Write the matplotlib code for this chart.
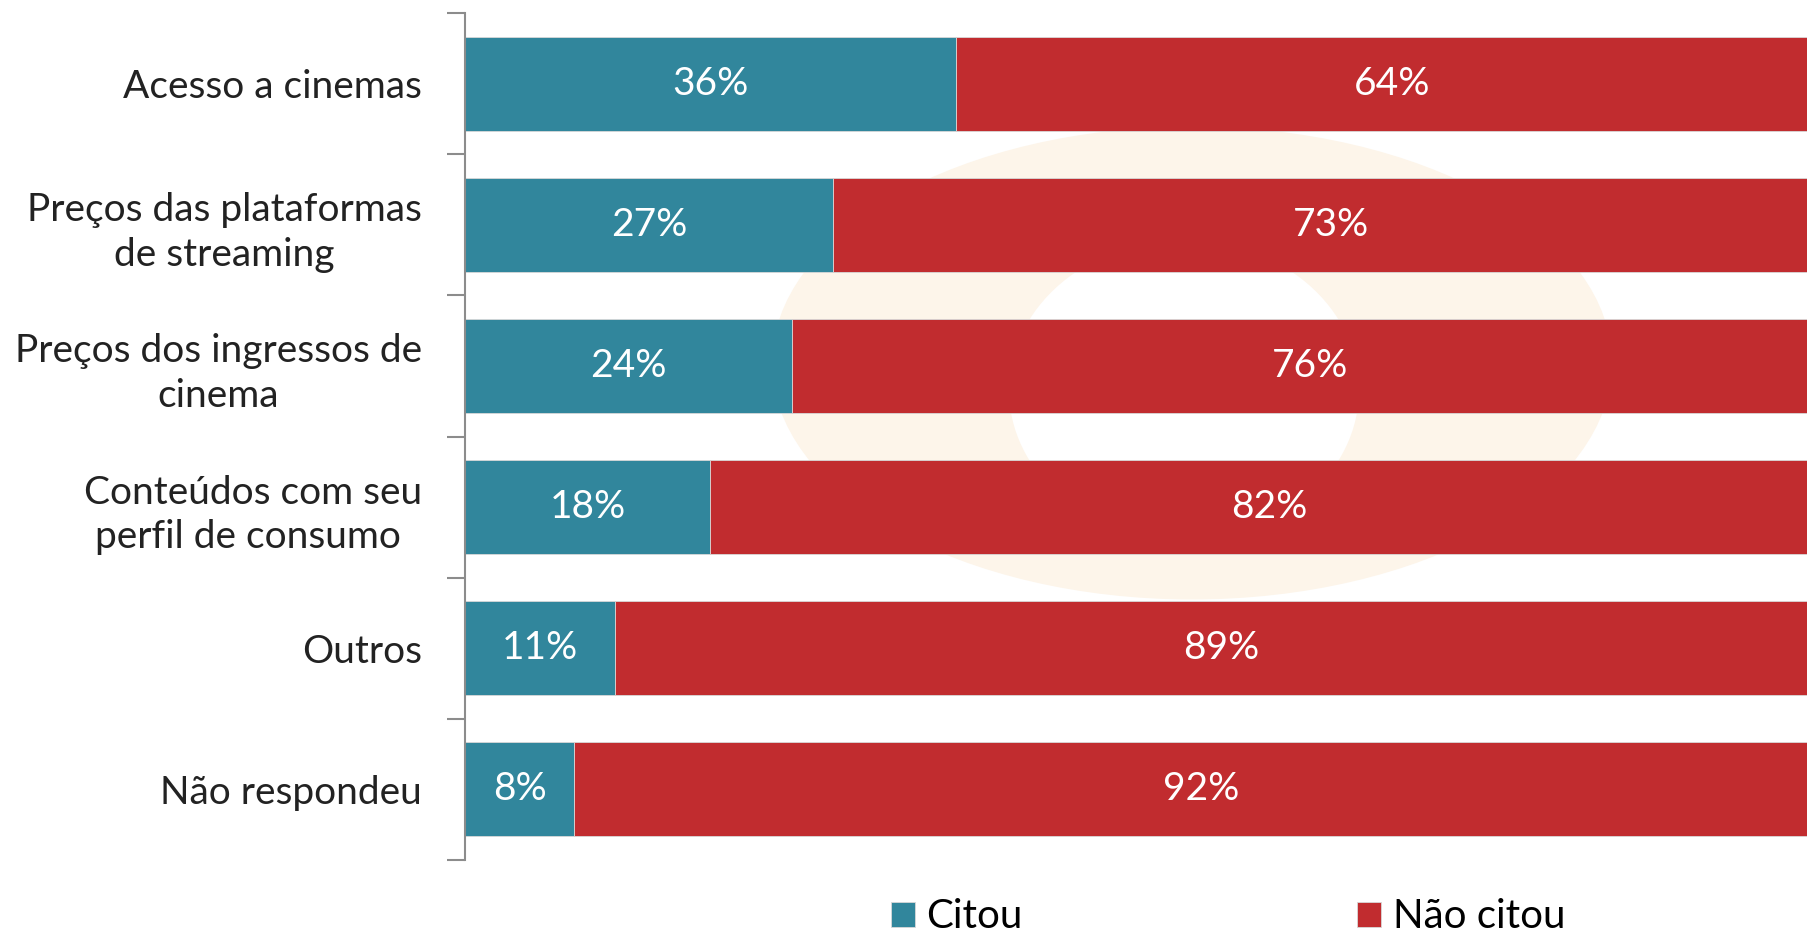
import numpy as np
import matplotlib.pyplot as plt
from matplotlib.patches import Ellipse

# categories top -> bottom
categorias = ['Acesso a cinemas',
              'Preços das plataformas\nde streaming',
              'Preços dos ingressos de\ncinema',
              'Conteúdos com seu\nperfil de consumo ',
              'Outros',
              'Não respondeu']
citou = [36, 27, 24, 18, 11, 8]
nao_citou = [64, 73, 76, 82, 89, 92]

azul = '#31869C'
vermelho = '#C12C2F'

plt.rcParams['font.family'] = ['Lato', 'DejaVu Sans']

W, H = 1808, 933
fig = plt.figure(figsize=(W / 100, H / 100), dpi=100)

# faint watermark behind the chart (pixel coords)
bg = fig.add_axes([0, 0, 1, 1], zorder=-1)
bg.set_xlim(0, W)
bg.set_ylim(H, 0)
bg.axis('off')
bg.add_patch(Ellipse((1192, 363), 840, 473, facecolor='#FDF5EA', edgecolor='none'))
bg.add_patch(Ellipse((1184, 390), 350, 300, facecolor='white', edgecolor='none'))

ax = fig.add_axes([465 / W, 73 / H, 1363 / W, 847 / H], zorder=1)
ax.patch.set_alpha(0)

y = np.arange(len(categorias))
citou = np.array(citou)
nao_citou = np.array(nao_citou)
ax.barh(y, citou, height=0.667, color=azul, edgecolor='#d8d8d8', linewidth=0.6, label='Citou')
ax.barh(y, nao_citou, left=citou, height=0.667, color=vermelho,
        edgecolor='#d8d8d8', linewidth=0.6, label='Não citou')

for i in range(len(categorias)):
    ax.text(citou[i] / 2, y[i], f'{citou[i]}%', color='white', fontsize=28,
            ha='center', va='center')
    ax.text(citou[i] + nao_citou[i] / 2, y[i], f'{nao_citou[i]}%', color='white',
            fontsize=28, ha='center', va='center')

ax.set_xlim(0, 100)
ax.set_ylim(len(categorias) - 0.5, -0.5)

ax.set_yticks(y)
ax.set_yticklabels(categorias, fontsize=28, color='#222222', multialignment='center',
                   linespacing=1.3)
ax.tick_params(axis='y', which='major', length=0, pad=31)
ax.set_yticks(np.arange(-0.5, len(categorias)), minor=True)
ax.tick_params(axis='y', which='minor', length=13, width=1.5, color='#8C8C8C')
ax.set_xticks([])

for s in ['top', 'right', 'bottom']:
    ax.spines[s].set_visible(False)
ax.spines['left'].set_color('#8C8C8C')
ax.spines['left'].set_linewidth(1.5)

fig.legend(loc='center', bbox_to_anchor=(1228 / W, 1 - 917 / H), ncol=2, frameon=False,
           fontsize=29, handlelength=0.6, handleheight=0.6, handletextpad=0.28,
           columnspacing=8.3)

fig.savefig('out.png', dpi=100)
